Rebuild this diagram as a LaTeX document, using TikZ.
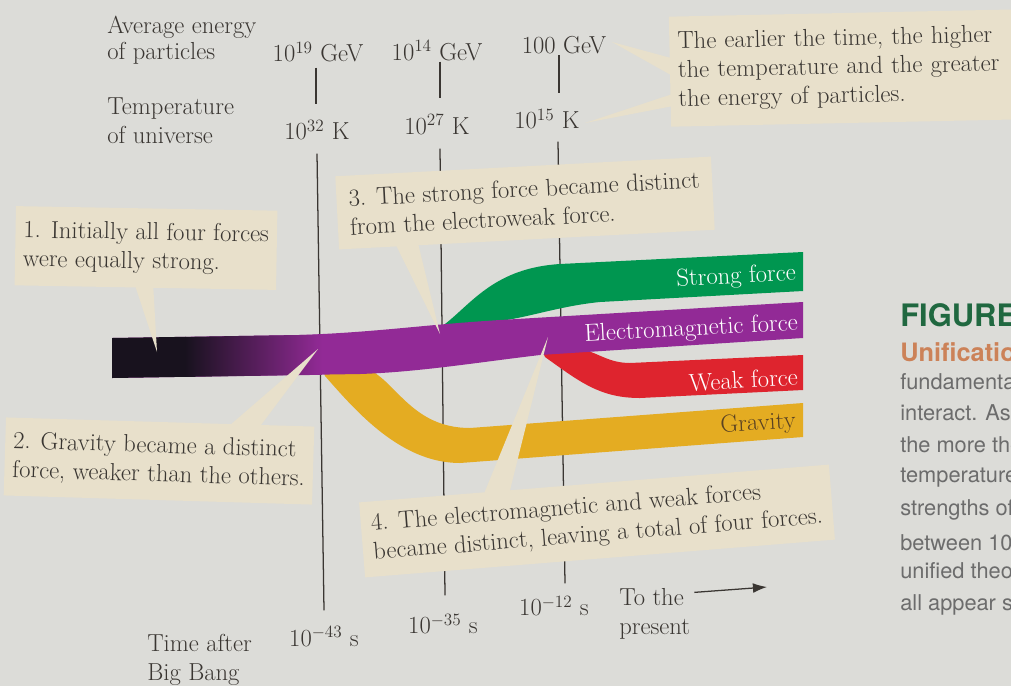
\documentclass[tikz,border=0pt]{standalone}
\usepackage{fontspec}
\newfontfamily\capfont{TeX Gyre Heros}
\usetikzlibrary{arrows.meta,calc,positioning}
\definecolor{paper}{RGB}{220,220,216}
\definecolor{calloutfill}{RGB}{232,224,203}
\definecolor{ink}{RGB}{58,54,50}
\definecolor{strongband}{RGB}{0,150,80}
\definecolor{emband}{RGB}{146,42,150}
\definecolor{weakband}{RGB}{222,36,46}
\definecolor{gravband}{RGB}{228,172,34}
\definecolor{earlyband}{RGB}{24,18,30}
\definecolor{gravtext}{RGB}{90,66,34}
\definecolor{capgreen}{RGB}{32,104,64}
\definecolor{caporange}{RGB}{204,130,88}
\definecolor{capgray}{RGB}{108,108,108}

\begin{document}
\begin{tikzpicture}[x=0.025cm,y=-0.025cm,
        font=\fontsize{17.5}{20.5}\selectfont,text=ink,
        axislabel/.style={inner sep=0pt,align=left,anchor=west},
        scalelabel/.style={inner sep=0pt},
        timeline/.style={draw=ink,line width=0.9pt},
        callout/.style={fill=calloutfill,inner xsep=0.2cm,inner ysep=0pt,align=left},
        tail/.style={fill=calloutfill},
        bandlabel/.style={text=white,anchor=east,inner sep=0pt,rotate=3},
        capline/.style={font=\capfont\fontsize{15.5}{17}\selectfont,text=capgray,anchor=west,inner sep=0pt}
    ]

        \fill[paper] (0,0) rectangle (1011,686);
        \useasboundingbox (0,0) rectangle (1011,686);

        % energy and temperature scale
        \node[axislabel,font=\fontsize{17.5}{18.5}\selectfont] (energy) at (107,40) {Average energy\\of particles};
        \node[axislabel] (temp) at (107,121) {Temperature\\of universe};
        \node[scalelabel] (e19) at (318,52) {10\textsuperscript{19} GeV};
        \node[scalelabel] (e14) at (437,50) {10\textsuperscript{14} GeV};
        \node[scalelabel] (e100) at (564,45) {100 GeV};
        \node[scalelabel] (k32) at (317,130) {10\textsuperscript{32} K};
        \node[scalelabel] (k27) at (437,124) {10\textsuperscript{27} K};
        \node[scalelabel] (k15) at (547,119) {10\textsuperscript{15} K};

        % time scale
        \node[scalelabel] (s43) at (324,636) {10\textsuperscript{$-$43} s};
        \node[scalelabel] (s35) at (443,624) {10\textsuperscript{$-$35} s};
        \node[scalelabel] (s12) at (554,606) {10\textsuperscript{$-$12} s};
        \node[axislabel] (tafter) at (147,660) {Time after\\Big Bang};
        \node[axislabel] (present) at (619,614) {To the\\present};
        \coordinate (future) at (767,587);
        \draw[timeline,-{Latex[length=10pt,width=7pt]}] ($(present.north east)+(4,4)$) -- (future);

        \draw[timeline] ($(e19.south)+(-2,5)$) -- ($(k32.north)+(-1,-15)$);
        \draw[timeline] ($(e14.south)+(3,1)$) -- ($(k27.north)+(3,-15)$);
        \draw[timeline] ($(e100.south)+(-5,1)$) -- ($(k15.north)+(12,-15)$);

        \draw[timeline] ($(k32.south)+(0,13)$) -- ($(s43.north)+(0,-15)$);
        \draw[timeline] ($(k27.south)+(3,14)$) -- ($(s35.north)+(2,-18)$);
        \draw[timeline] ($(k15.south)+(11,12)$) -- ($(s12.north)+(11,-12)$);

        % force bands
        \fill[gravband] (322,368) -- (365,368) .. controls (395,378) and (410,428) .. (470,428) -- (803,403) -- (803,437) -- (460,463) .. controls (400,463) and (355,410) .. (325,376) -- cycle;
        \fill[strongband] (445,334) -- (445,324) .. controls (472,303) and (495,268) .. (560,264) -- (803,252) -- (803,291) -- (600,302) .. controls (560,306) and (530,317) .. (500,321) -- (500,334) -- cycle;
        \fill[weakband] (540,345) -- (575,349) .. controls (595,349) and (605,363) .. (630,363) -- (803,355) -- (803,390) -- (640,398) .. controls (600,398) and (580,382) .. (545,357) -- cycle;
        \fill[emband] (112,338) -- (300,335) .. controls (380,332) and (420,325) .. (500,320) -- (803,302) -- (803,338) -- (540,355) .. controls (480,362) and (420,372) .. (360,374) -- (112,378) -- cycle;
        \fill[earlyband] (112,338) -- (186,336.8) -- (186,376.8) -- (112,378) -- cycle;
        \shade[left color=earlyband,right color=emband] (185,336.9) -- (322,334.6) -- (322,374.8) -- (185,376.9) -- cycle;

        \node[bandlabel] (lstrong) at (796,274) {Strong force};
        \node[bandlabel] (lem) at (798,324) {Electromagnetic force};
        \node[bandlabel] (lweak) at (798,377) {Weak force};
        \node[bandlabel,text=gravtext] (lgrav) at (796,422) {Gravity};

        % callouts
        \node[callout,minimum width=6.43cm,minimum height=1.98cm,rotate=-1] (c1) at (146,248) {1. Initially all four forces\\were equally strong.};
        \node[callout,minimum width=7.55cm,minimum height=1.95cm,rotate=-1.7] (c2) at (159,461) {2. Gravity became a distinct\\force, weaker than the others.};
        \node[callout,minimum width=9.4cm,minimum height=1.83cm,rotate=3] (c3) at (525,203) {3. The strong force became distinct\\from the electroweak force.};
        \node[callout,minimum width=11.78cm,minimum height=1.88cm,rotate=4.6] (c4) at (597,521) {4. The electromagnetic and weak forces\\became distinct, leaving a total of four forces.};
        \node[callout,text width=8.35cm,minimum height=2.75cm,rotate=1.2] (cE) at (845,68) {The earlier the time, the higher\\the temperature and the greater\\the energy of particles.};

        \coordinate (tip1) at (157,352);
        \coordinate (tip2) at (318,349);
        \coordinate (tip3) at (440,334);
        \coordinate (tip4) at (548,337);
        \coordinate (tipE) at (612,42);
        \coordinate (tipK) at (585,123);

        \fill[tail] ($(c1.south west)!0.46!(c1.south east)+(0,-3)$) -- (tip1) -- ($(c1.south west)!0.53!(c1.south east)+(0,-3)$) -- cycle;
        \fill[tail] ($(c2.north west)!0.72!(c2.north east)+(0,3)$) -- (tip2) -- ($(c2.north west)!0.82!(c2.north east)+(0,3)$) -- cycle;
        \fill[tail] ($(c3.south west)!0.15!(c3.south east)+(0,-3)$) -- (tip3) -- ($(c3.south west)!0.21!(c3.south east)+(0,-3)$) -- cycle;
        \fill[tail] ($(c4.north west)!0.265!(c4.north east)+(0,3)$) -- (tip4) -- ($(c4.north west)!0.32!(c4.north east)+(0,3)$) -- cycle;
        \fill[tail] ($(cE.north west)!0.38!(cE.south west)+(3,0)$) -- (tipE) -- ($(cE.north west)!0.54!(cE.south west)+(3,0)$) -- cycle;
        \fill[tail] ($(cE.north west)!0.70!(cE.south west)+(3,0)$) -- (tipK) -- ($(cE.north west)!0.81!(cE.south west)+(3,0)$) -- cycle;

        % caption at the page edge
        \begin{scope}
            \clip (880,290) rectangle (1011,625);
            \node[anchor=west,inner sep=0pt,font=\capfont\bfseries\fontsize{22}{22}\selectfont,text=capgreen] (figtitle) at (900,315) {FIGURE};
            \node[anchor=west,inner sep=0pt,font=\capfont\bfseries\fontsize{18}{18}\selectfont,text=caporange] (figsub) at (900,352) {Unification};
            \node[capline] (cap1) at (900,382) {fundamental};
            \node[capline] (cap2) at (900,413) {interact. As};
            \node[capline] (cap3) at (900,445) {the more the};
            \node[capline] (cap4) at (900,478) {temperature};
            \node[capline] (cap5) at (900,510) {strengths of};
            \node[capline] (cap6) at (900,543) {between 10};
            \node[capline] (cap7) at (900,573) {unified theory};
            \node[capline] (cap8) at (900,605) {all appear so};
        \end{scope}
    \end{tikzpicture}
\end{document}
